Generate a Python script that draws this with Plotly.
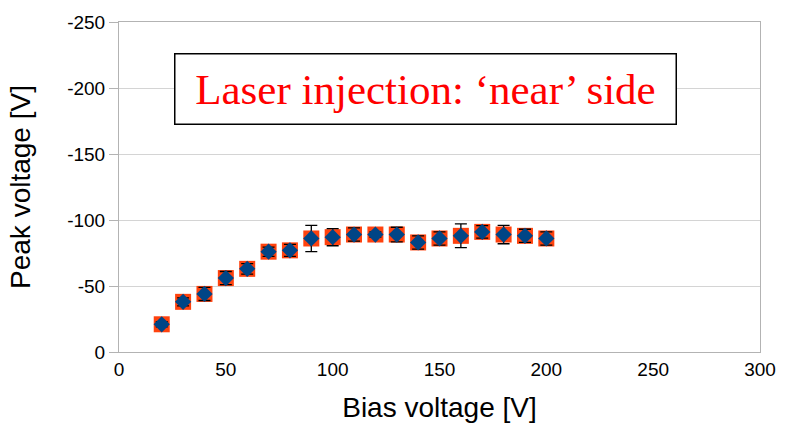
import plotly.graph_objects as go

bias = [20, 30, 40, 50, 60, 70, 80, 90, 100, 110, 120, 130, 140, 150, 160, 170, 180, 190, 200]
peak = [-21, -38, -44, -56, -63, -76, -77, -86, -87, -89, -89, -89, -83, -86, -88, -91, -89, -88, -86]
peak_err = [2, 3, 5, 5, 4, 3.5, 4.5, 10, 6.5, 5, 2, 5.5, 5, 5, 9, 4.7, 7, 5, 5]
peak_b = [-21, -38, -44, -56, -63, -76, -77, -86, -87, -89, -89, -89, -83, -86, -88, -91, -89, -88, -86]

x_ticks = [0, 50, 100, 150, 200, 250, 300]
y_ticks = [0, -50, -100, -150, -200, -250]
y_ticktext = ["0", "-50", "-100", "-150", "-200", "-250"]

fig = go.Figure()
fig.add_trace(go.Scatter(
    x=bias, y=peak_b, mode="markers",
    marker=dict(symbol="square", size=16, color="#FF420E", line=dict(width=0)),
    showlegend=False,
))
fig.add_trace(go.Scatter(
    x=bias, y=peak, mode="markers",
    marker=dict(symbol="diamond", size=12.5, color="#004586", line=dict(width=0)),
    error_y=dict(type="data", array=peak_err, color="black", thickness=1.3, width=6),
    showlegend=False,
))

fig.add_annotation(
    x=143.3, y=-199, xref="x", yref="y",
    text="Laser injection: \u2018near\u2019 side",
    showarrow=False,
    font=dict(family="Liberation Serif", size=43, color="#FF0000"),
    bordercolor="black", borderwidth=1.5, bgcolor="white",
    width=498, height=67,
)

fig.update_layout(
    width=788, height=431,
    margin=dict(l=119, r=17, t=15, b=79),
    paper_bgcolor="white", plot_bgcolor="white",
    font=dict(family="Liberation Sans", color="black"),
    xaxis=dict(
        range=[0, 300], tickvals=x_ticks,
        showgrid=False, zeroline=False,
        showline=True, linecolor="#b3b3b3", linewidth=1, mirror=True,
        ticks="", tickfont=dict(size=19),
        title=dict(text="Bias voltage [V]", font=dict(size=28), standoff=18),
    ),
    yaxis=dict(
        range=[0, -250], tickvals=y_ticks, ticktext=y_ticktext,
        showgrid=True, gridcolor="#d4d4d4", gridwidth=1, zeroline=False,
        showline=True, linecolor="#b3b3b3", linewidth=1, mirror=True,
        ticks="outside", ticklen=9, tickcolor="#b3b3b3", tickfont=dict(size=19),
        title=dict(text="Peak voltage [V]", font=dict(size=28), standoff=28),
    ),
)

fig.write_html("out.html")
